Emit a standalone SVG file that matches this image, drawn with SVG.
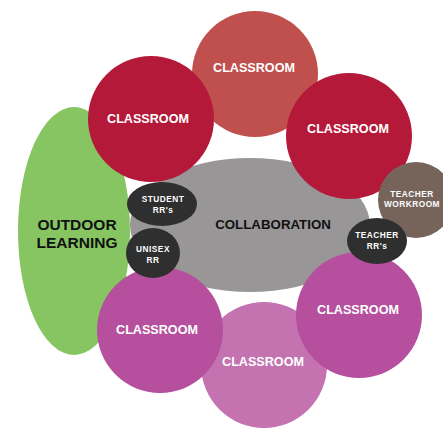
<svg xmlns="http://www.w3.org/2000/svg" width="443" height="430" viewBox="0 0 443 430">
<style>
.lbl{font-family:"Liberation Sans",Arial,sans-serif;font-weight:bold;text-anchor:middle}
.cr{fill:#fff;font-size:12.6px}
.big{fill:#111;font-size:15.5px}
.sm{fill:#fff;font-size:8.3px;letter-spacing:0.5px}
</style>
<rect width="443" height="430" fill="#fff"/>
<g id="outdoor"><ellipse cx="74" cy="231" rx="56" ry="124" fill="#86C562"/>
<text class="lbl big" x="77" y="229.5">OUTDOOR</text><text class="lbl big" x="77" y="247.5">LEARNING</text></g>
<g id="collaboration"><ellipse cx="250" cy="225" rx="120" ry="67" fill="#999698"/>
<text class="lbl" x="273" y="229" style="fill:#111;font-size:13.3px">COLLABORATION</text></g>
<g id="classroom-top"><circle cx="255" cy="74" r="63" fill="#C0504D"/><text class="lbl cr" x="254" y="71.5">CLASSROOM</text></g>
<g id="classroom-top-left"><circle cx="151" cy="119" r="63" fill="#B5193A"/><text class="lbl cr" x="148" y="122.5">CLASSROOM</text></g>
<g id="classroom-top-right"><circle cx="349" cy="136" r="63" fill="#B5193A"/><text class="lbl cr" x="348" y="132.5">CLASSROOM</text></g>
<g id="teacher-workroom"><circle cx="416" cy="200" r="38" fill="#76645A"/>
<text class="lbl sm" x="412" y="196.5">TEACHER</text><text class="lbl sm" x="412" y="207">WORKROOM</text></g>
<g id="classroom-bottom-mid"><circle cx="264" cy="365" r="63" fill="#C473B0"/><text class="lbl cr" x="263" y="365.5">CLASSROOM</text></g>
<g id="classroom-bottom-left"><circle cx="160" cy="330" r="63" fill="#B54F9E"/><text class="lbl cr" x="157" y="333.5">CLASSROOM</text></g>
<g id="classroom-bottom-right"><circle cx="359" cy="315" r="63" fill="#B54F9E"/><text class="lbl cr" x="358" y="313.5">CLASSROOM</text></g>
<g id="student-rr"><ellipse cx="162" cy="204" rx="35" ry="22" fill="#2F2F2F"/>
<text class="lbl sm" x="163" y="202">STUDENT</text><text class="lbl sm" x="163" y="212.5">RR's</text></g>
<g id="unisex-rr"><ellipse cx="153" cy="253" rx="27" ry="25" fill="#2F2F2F"/>
<text class="lbl sm" x="153" y="252">UNISEX</text><text class="lbl sm" x="153" y="263">RR</text></g>
<g id="teacher-rr"><ellipse cx="377" cy="241" rx="30" ry="23" fill="#2F2F2F"/>
<text class="lbl sm" x="377" y="238">TEACHER</text><text class="lbl sm" x="377" y="249">RR's</text></g>
</svg>
